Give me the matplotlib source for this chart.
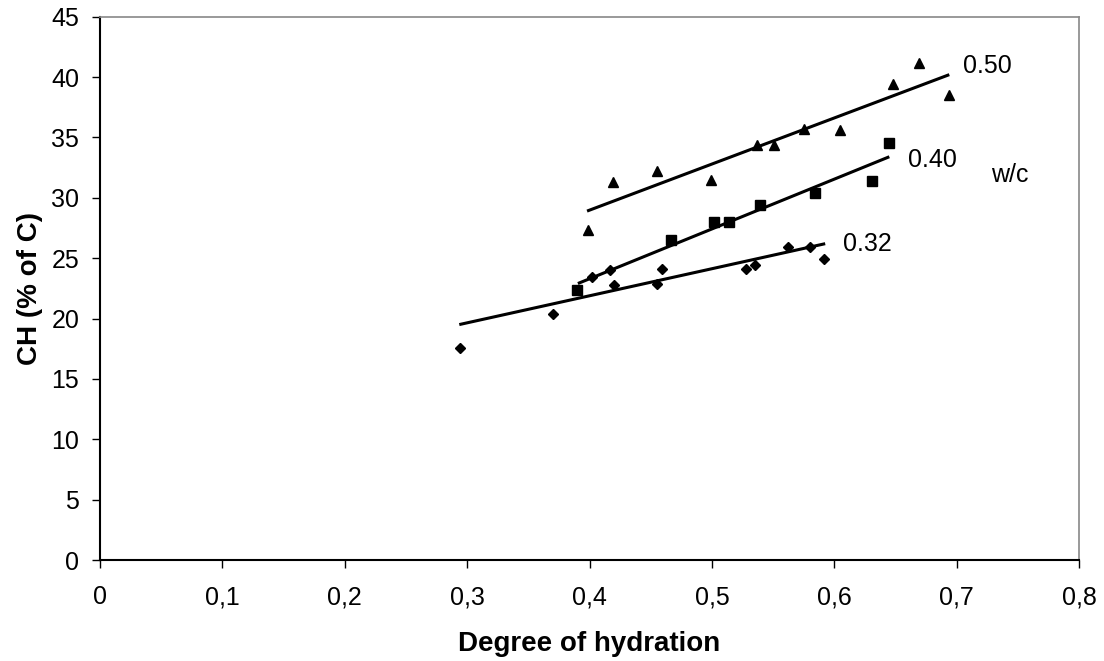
import matplotlib
matplotlib.use("Agg")
import matplotlib.pyplot as plt

plt.rcParams['font.family'] = ['Liberation Sans', 'DejaVu Sans']

# w/c = 0.50 (triangles)
x50 = [0.399, 0.419, 0.455, 0.499, 0.537, 0.551, 0.575, 0.605, 0.648, 0.669, 0.694]
y50 = [27.3, 31.3, 32.2, 31.5, 34.4, 34.4, 35.7, 35.6, 39.4, 41.2, 38.5]
fit50_x = [0.398, 0.694]
fit50_y = [28.9, 40.2]

# w/c = 0.40 (squares)
x40 = [0.390, 0.4665, 0.5016, 0.5136, 0.5395, 0.584, 0.631, 0.645]
y40 = [22.4, 26.5, 28.0, 28.0, 29.4, 30.4, 31.4, 34.5]
fit40_x = [0.3905, 0.645]
fit40_y = [22.9, 33.4]

# w/c = 0.32 (diamonds)
x32 = [0.294, 0.370, 0.402, 0.417, 0.420, 0.455, 0.459, 0.528, 0.535, 0.562, 0.580, 0.592]
y32 = [17.6, 20.4, 23.4, 24.0, 22.8, 22.9, 24.1, 24.1, 24.4, 25.9, 25.9, 24.9]
fit32_x = [0.2936, 0.5926]
fit32_y = [19.5, 26.2]

labels = ["0.50", "0.40", "0.32", "w/c"]
label_x = [0.705, 0.660, 0.607, 0.728]
label_y = [40.9, 33.1, 26.15, 31.9]

xticks = [0, 0.1, 0.2, 0.3, 0.4, 0.5, 0.6, 0.7, 0.8]
xticklabels = ["0", "0,1", "0,2", "0,3", "0,4", "0,5", "0,6", "0,7", "0,8"]
yticks = [0, 5, 10, 15, 20, 25, 30, 35, 40, 45]

fig = plt.figure(figsize=(11.04, 6.61), dpi=100)
ax = fig.add_axes([100/1104, 1 - 560/661, (1079 - 100)/1104, (560 - 16.7)/661])

ax.plot(x50, y50, linestyle='none', marker='^', color='black', markersize=7.5)
ax.plot(x40, y40, linestyle='none', marker='s', color='black', markersize=6.5)
ax.plot(x32, y32, linestyle='none', marker='D', color='black', markersize=5)
for fx, fy in [(fit50_x, fit50_y), (fit40_x, fit40_y), (fit32_x, fit32_y)]:
    ax.plot(fx, fy, color='black', linewidth=2.2, solid_capstyle='butt')

for t, lx, ly in zip(labels, label_x, label_y):
    ax.text(lx, ly, t, fontsize=18, ha='left', va='center', color='black')

ax.set_xlim(0, 0.8)
ax.set_ylim(0, 45)
ax.set_xticks(xticks)
ax.set_xticklabels(xticklabels)
ax.set_yticks(yticks)
ax.tick_params(axis='both', direction='out', length=6, width=1, labelsize=18, colors='black', pad=9)
ax.tick_params(axis='x', pad=12)

for s in ['top', 'right']:
    ax.spines[s].set_color('#888888')
    ax.spines[s].set_linewidth(1.2)
for s in ['left', 'bottom']:
    ax.spines[s].set_color('black')
    ax.spines[s].set_linewidth(1.5)

ax.set_xlabel("Degree of hydration", fontsize=20, fontweight='bold', labelpad=16)
ax.set_ylabel("CH (% of C)", fontsize=20, fontweight='bold', labelpad=6)

fig.savefig("out.png", dpi=100)
